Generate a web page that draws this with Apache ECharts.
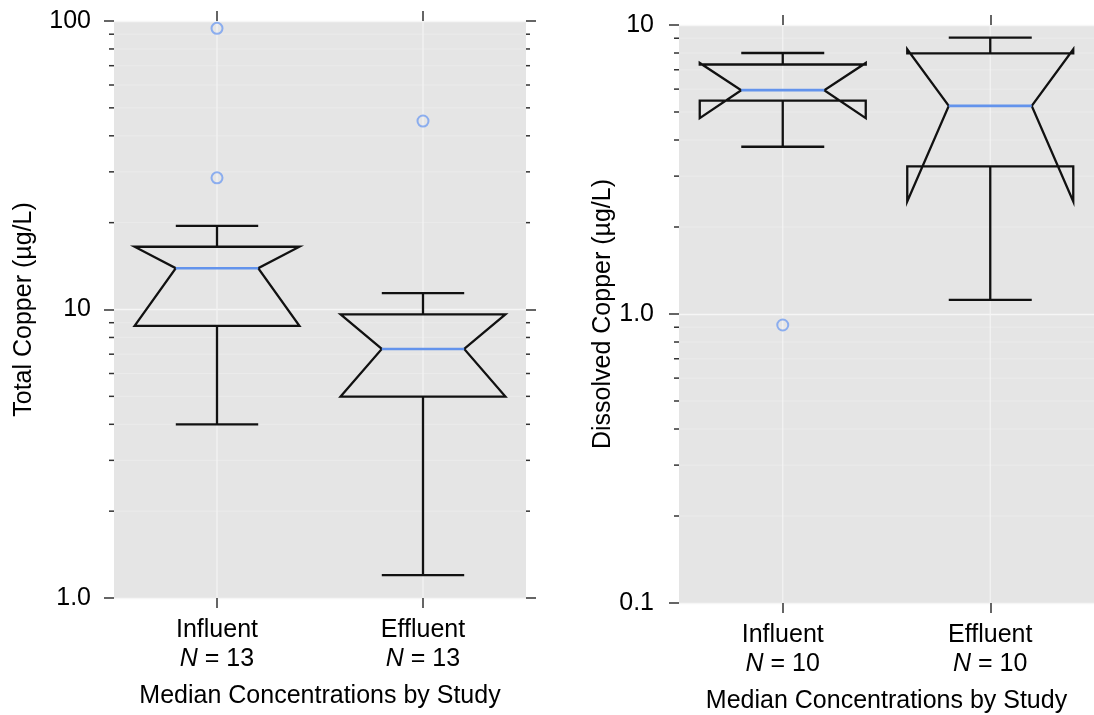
<!DOCTYPE html>
<html>
<head>
<meta charset="utf-8">
<script src="https://cdn.jsdelivr.net/npm/echarts@6/dist/echarts.min.js"></script>
<style>
  html, body { margin: 0; padding: 0; background: #fff; }
  #chart { width: 1094px; height: 715px; }
</style>
</head>
<body>
<div id="chart"></div>
<script>
// Study groups and sample counts
const categories = ['Influent', 'Effluent'];
const totalN = [13, 13];
const dissolvedN = [10, 10];

// Box statistics per group, in µg/L:
// [lower whisker, Q1, notch low, median, notch high, Q3, upper whisker]
const totalInfluent = [4.0, 8.77, 8.77, 13.9, 16.5, 16.5, 19.5];
const totalEffluent = [1.2, 4.99, 4.99, 7.3, 9.62, 9.62, 11.4];
const dissolvedInfluent = [3.79, 5.47, 4.76, 5.95, 7.39, 7.3, 8.0];
const dissolvedEffluent = [1.12, 3.24, 2.45, 5.25, 8.24, 7.98, 9.04];

// Outliers: [group index, value]
const totalOutliers = [[0, 94.3], [0, 28.6], [1, 45.0]];
const dissolvedOutliers = [[0, 0.916]];

// Axis tick values and their printed labels
const totalTickValues = [1, 10, 100];
const totalTickLabels = ['1.0', '10', '100'];
const dissolvedTickValues = [0.1, 1, 10];
const dissolvedTickLabels = ['0.1', '1.0', '10'];

// Minor log ticks (2..9 of each decade)
const totalMinorTicks = [2, 3, 4, 5, 6, 7, 8, 9, 20, 30, 40, 50, 60, 70, 80, 90];
const dissolvedMinorTicks = [0.2, 0.3, 0.4, 0.5, 0.6, 0.7, 0.8, 0.9, 2, 3, 4, 5, 6, 7, 8, 9];

const FONT = "'Liberation Sans', Arial, Helvetica, sans-serif";
const FS = 25;
const TEXT = '#000000';
const TICK = '#333333';
const PANEL = '#e5e5e5';
const MEDIAN = '#6393ec';
const OUTLIER = '#749ff0';

function tickFormatter(values, labels) {
  return function (v) {
    const i = values.findIndex(t => Math.abs(Math.log10(t) - Math.log10(v)) < 1e-6);
    return i >= 0 ? labels[i] : '';
  };
}

function categoryFormatter(counts) {
  return function (value, index) {
    return value + '\n{it|N} = ' + counts[index];
  };
}

// Notched box drawn as a single outline with whiskers and a median bar
function renderBox(params, api) {
  const i = api.value(0);
  const cs = params.coordSys;
  const band = api.size([1, 0])[0];
  const y = k => api.coord([i, api.value(k)])[1];
  const cx = api.coord([i, api.value(4)])[0];
  const wl = y(1), q1 = y(2), nl = y(3), md = y(4), nh = y(5), q3 = y(6), wh = y(7);
  const hb = band * 0.4, hn = band * 0.2, hc = band * 0.2;
  const xl = cx - hb, xr = cx + hb;
  const stroke = { stroke: '#111', lineWidth: 2.3, fill: null, lineJoin: 'miter' };
  return {
    type: 'group',
    children: [
      { type: 'line', shape: { x1: cx, y1: cs.y, x2: cx, y2: cs.y + cs.height },
        style: { stroke: '#f4f4f4', lineWidth: 1.2 } },
      { type: 'line', shape: { x1: cx, y1: q3, x2: cx, y2: wh }, style: stroke },
      { type: 'line', shape: { x1: cx - hc, y1: wh, x2: cx + hc, y2: wh }, style: stroke },
      { type: 'line', shape: { x1: cx, y1: q1, x2: cx, y2: wl }, style: stroke },
      { type: 'line', shape: { x1: cx - hc, y1: wl, x2: cx + hc, y2: wl }, style: stroke },
      { type: 'polygon', shape: { points: [
          [xl, q1], [xl, nl], [cx - hn, md], [xl, nh], [xl, q3],
          [xr, q3], [xr, nh], [cx + hn, md], [xr, nl], [xr, q1]
        ] }, style: stroke },
      { type: 'line', shape: { x1: cx - hn, y1: md, x2: cx + hn, y2: md },
        style: { stroke: MEDIAN, lineWidth: 2.6 } }
    ]
  };
}

// Minor grid lines plus short minor ticks outside the panel
function minorRenderer(rightTicks) {
  return function (params, api) {
    const cs = params.coordSys;
    const yy = api.coord([0, api.value(1)])[1];
    const children = [
      { type: 'line', shape: { x1: cs.x, y1: yy, x2: cs.x + cs.width, y2: yy },
        style: { stroke: '#ebebeb', lineWidth: 1 } },
      { type: 'line', shape: { x1: cs.x - 5, y1: yy, x2: cs.x, y2: yy },
        style: { stroke: TICK, lineWidth: 1.5 } }
    ];
    if (rightTicks) {
      children.push({ type: 'line', shape: { x1: cs.x + cs.width, y1: yy, x2: cs.x + cs.width + 4, y2: yy },
        style: { stroke: TICK, lineWidth: 1.5 } });
    }
    return { type: 'group', children };
  };
}

const labelStyle = { fontFamily: FONT, fontSize: FS, color: TEXT };
const tickStyle = { color: TICK, width: 1.5 };

function bottomAxis(gridIndex, counts, nameGap) {
  return {
    gridIndex, type: 'category', data: categories, position: 'bottom',
    axisLine: { show: false, onZero: false },
    axisTick: { show: true, alignWithLabel: true, length: 10, lineStyle: tickStyle },
    axisLabel: Object.assign({}, labelStyle, {
      show: true, margin: 18, lineHeight: 29, formatter: categoryFormatter(counts),
      rich: { it: { fontFamily: FONT, fontSize: FS, fontStyle: 'italic', color: TEXT, lineHeight: 29 } }
    }),
    splitLine: { show: false },
    name: 'Median Concentrations by Study', nameLocation: 'middle', nameGap,
    nameTextStyle: labelStyle
  };
}

function topAxis(gridIndex) {
  return {
    gridIndex, type: 'category', data: categories, position: 'top',
    axisLine: { show: false, onZero: false },
    axisTick: { show: true, alignWithLabel: true, length: 10, lineStyle: tickStyle },
    axisLabel: { show: false }, splitLine: { show: false }
  };
}

const option = {
  animation: false,
  backgroundColor: '#ffffff',
  grid: [
    { left: 114, top: 21, width: 412, height: 577, show: true, backgroundColor: PANEL, borderWidth: 0,
      outerBoundsMode: 'none', containLabel: false },
    { left: 679, top: 25, width: 415, height: 578, show: true, backgroundColor: PANEL, borderWidth: 0,
      outerBoundsMode: 'none', containLabel: false }
  ],
  xAxis: [bottomAxis(0, totalN, 86), topAxis(0), bottomAxis(1, dissolvedN, 86), topAxis(1)],
  yAxis: [
    {
      gridIndex: 0, type: 'log', logBase: 10, min: 1, max: 100, position: 'left',
      axisLine: { show: false },
      axisTick: { show: true, length: 10, lineStyle: tickStyle },
      axisLabel: Object.assign({}, labelStyle, { show: true, margin: 23, formatter: tickFormatter(totalTickValues, totalTickLabels) }),
      splitLine: { show: true, lineStyle: { color: '#f6f6f6', width: 1.3 } },
      name: 'Total Copper (µg/L)', nameLocation: 'middle', nameRotate: 90, nameGap: 77,
      nameTextStyle: labelStyle
    },
    {
      gridIndex: 0, type: 'log', logBase: 10, min: 1, max: 100, position: 'right',
      axisLine: { show: false },
      axisTick: { show: true, length: 10, lineStyle: tickStyle },
      axisLabel: { show: false }, splitLine: { show: false }
    },
    {
      gridIndex: 1, type: 'log', logBase: 10, min: 0.1, max: 10, position: 'left',
      axisLine: { show: false },
      axisTick: { show: true, length: 10, lineStyle: tickStyle },
      axisLabel: Object.assign({}, labelStyle, { show: true, margin: 25, formatter: tickFormatter(dissolvedTickValues, dissolvedTickLabels) }),
      splitLine: { show: true, lineStyle: { color: '#f6f6f6', width: 1.3 } },
      name: 'Dissolved Copper (µg/L)', nameLocation: 'middle', nameRotate: 90, nameGap: 63,
      nameTextStyle: labelStyle
    }
  ],
  series: [
    {
      type: 'custom', xAxisIndex: 0, yAxisIndex: 0, z: 1, silent: true,
      renderItem: minorRenderer(true),
      encode: { x: 0, y: 1 },
      data: totalMinorTicks.map(v => [0, v])
    },
    {
      type: 'custom', xAxisIndex: 2, yAxisIndex: 2, z: 1, silent: true,
      renderItem: minorRenderer(false),
      encode: { x: 0, y: 1 },
      data: dissolvedMinorTicks.map(v => [0, v])
    },
    {
      type: 'custom', xAxisIndex: 0, yAxisIndex: 0, z: 3, silent: true,
      renderItem: renderBox,
      encode: { x: 0, y: [1, 2, 3, 4, 5, 6, 7] },
      data: [[0].concat(totalInfluent), [1].concat(totalEffluent)]
    },
    {
      type: 'custom', xAxisIndex: 2, yAxisIndex: 2, z: 3, silent: true,
      renderItem: renderBox,
      encode: { x: 0, y: [1, 2, 3, 4, 5, 6, 7] },
      data: [[0].concat(dissolvedInfluent), [1].concat(dissolvedEffluent)]
    },
    {
      type: 'scatter', xAxisIndex: 0, yAxisIndex: 0, z: 4, silent: true,
      symbol: 'circle', symbolSize: 11,
      itemStyle: { color: 'rgba(0,0,0,0)', borderColor: OUTLIER, borderWidth: 2 },
      data: totalOutliers
    },
    {
      type: 'scatter', xAxisIndex: 2, yAxisIndex: 2, z: 4, silent: true,
      symbol: 'circle', symbolSize: 11,
      itemStyle: { color: 'rgba(0,0,0,0)', borderColor: OUTLIER, borderWidth: 2 },
      data: dissolvedOutliers
    }
  ]
};

const chart = echarts.init(document.getElementById('chart'), null, { renderer: 'canvas' });
chart.setOption(option);
</script>
</body>
</html>
